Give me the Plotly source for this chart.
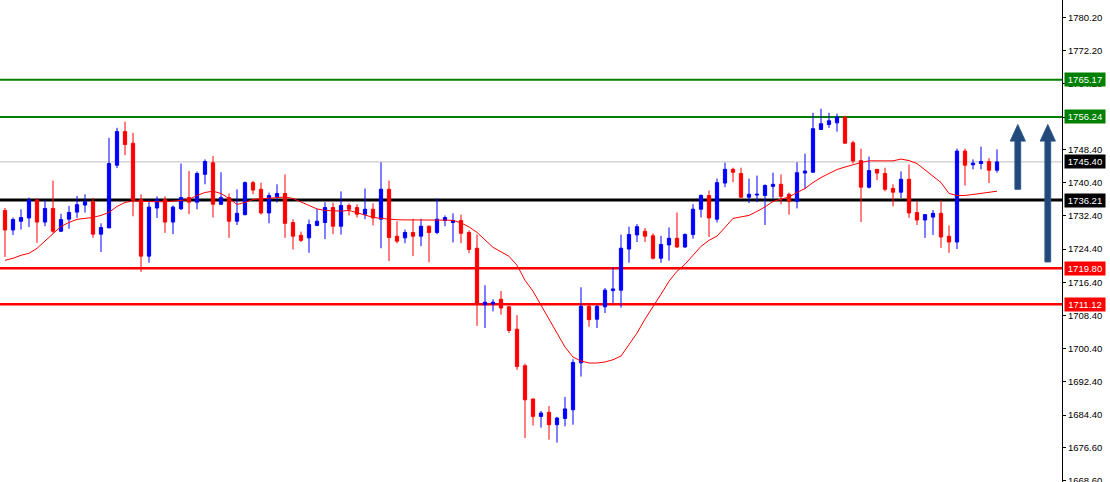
import plotly.graph_objects as go

# ---- data ----
idx = list(range(125))
opens = [1733.7, 1729.0, 1731.1, 1731.9, 1736.2, 1730.9, 1734.2, 1728.7, 1731.6, 1733.3,
         1735.0, 1735.8, 1728.0, 1729.5, 1744.6, 1752.7, 1749.9, 1736.3, 1722.7, 1734.3,
         1736.3, 1730.9, 1734.1, 1736.8, 1735.7, 1742.4, 1745.2, 1735.2, 1736.8, 1731.1,
         1732.7, 1740.4, 1738.8, 1733.1, 1737.0, 1737.8, 1730.8, 1727.7, 1727.1, 1730.1,
         1730.8, 1734.4, 1729.9, 1734.9, 1734.4, 1732.8, 1734.0, 1731.6, 1738.8, 1727.5,
         1727.1, 1728.4, 1727.5, 1729.9, 1728.4, 1731.3, 1730.8, 1731.3, 1728.4, 1724.6,
         1711.0, 1711.2, 1712.3, 1710.5, 1705.1, 1696.3, 1688.3, 1684.1, 1685.1, 1682.1,
         1683.6, 1685.7, 1697.0, 1710.6, 1707.5, 1710.5, 1714.4, 1714.5, 1724.4, 1727.8,
         1728.7, 1727.6, 1722.2, 1725.4, 1727.0, 1724.9, 1727.9, 1734.0, 1737.3, 1731.6,
         1740.3, 1743.6, 1742.6, 1736.9, 1737.4, 1737.3, 1739.5, 1740.0, 1737.6, 1735.9,
         1742.7, 1742.9, 1753.2, 1754.4, 1754.8, 1756.2, 1750.0, 1745.7, 1739.3, 1743.6,
         1742.6, 1739.0, 1738.1, 1741.2, 1733.2, 1731.4, 1732.1, 1733.0, 1727.5, 1726.1,
         1748.0, 1744.7, 1745.0, 1745.5, 1743.4]
highs = [1734.3, 1732.0, 1734.0, 1736.8, 1736.6, 1736.3, 1740.9, 1732.9, 1734.8, 1737.2,
         1737.6, 1736.7, 1730.6, 1751.2, 1753.6, 1755.1, 1752.4, 1737.6, 1736.3, 1737.1,
         1737.1, 1734.9, 1745.0, 1743.2, 1743.1, 1746.0, 1746.8, 1742.9, 1737.8, 1738.8,
         1740.7, 1740.8, 1740.4, 1738.0, 1740.0, 1742.4, 1731.6, 1728.6, 1731.5, 1734.1,
         1735.7, 1735.6, 1738.3, 1735.4, 1735.2, 1739.0, 1735.4, 1745.3, 1740.9, 1731.1,
         1729.1, 1731.7, 1731.7, 1730.1, 1736.6, 1732.5, 1733.0, 1732.7, 1728.9, 1727.9,
         1715.7, 1712.3, 1714.3, 1710.7, 1708.5, 1696.8, 1688.3, 1685.4, 1686.6, 1684.0,
         1688.8, 1697.9, 1715.2, 1710.9, 1710.9, 1715.0, 1720.0, 1727.9, 1729.8, 1730.4,
         1729.5, 1728.2, 1727.6, 1729.6, 1733.2, 1728.2, 1735.2, 1737.6, 1738.5, 1741.4,
         1745.2, 1744.0, 1744.0, 1741.4, 1742.1, 1740.0, 1742.8, 1742.4, 1738.0, 1745.3,
         1747.4, 1757.2, 1758.2, 1757.2, 1757.0, 1756.5, 1750.5, 1748.6, 1746.7, 1743.6,
         1744.0, 1740.0, 1743.1, 1744.8, 1736.0, 1732.7, 1733.8, 1736.1, 1730.1, 1748.6,
         1748.6, 1746.0, 1749.1, 1746.3, 1748.4]
lows = [1722.5, 1727.8, 1729.1, 1729.7, 1725.9, 1729.9, 1728.2, 1728.5, 1729.3, 1731.9,
        1733.2, 1727.1, 1723.7, 1729.5, 1743.9, 1747.0, 1732.3, 1718.9, 1721.1, 1731.9,
        1728.3, 1728.0, 1733.8, 1732.8, 1734.0, 1740.0, 1732.0, 1735.0, 1727.1, 1730.2,
        1732.5, 1737.6, 1732.7, 1730.6, 1735.6, 1727.1, 1724.3, 1726.1, 1723.5, 1729.9,
        1726.8, 1728.0, 1727.9, 1732.5, 1732.0, 1731.6, 1730.1, 1724.6, 1721.5, 1725.8,
        1725.8, 1722.7, 1725.1, 1721.2, 1728.0, 1729.9, 1726.0, 1725.8, 1723.4, 1705.9,
        1705.4, 1709.4, 1708.6, 1704.2, 1695.3, 1678.9, 1681.9, 1681.4, 1678.5, 1677.8,
        1681.7, 1682.1, 1693.7, 1705.7, 1705.4, 1709.0, 1711.4, 1710.3, 1721.1, 1726.1,
        1726.1, 1721.9, 1721.1, 1721.6, 1724.7, 1724.7, 1726.9, 1732.0, 1727.3, 1730.8,
        1739.3, 1740.5, 1736.7, 1735.5, 1735.7, 1730.2, 1736.6, 1735.2, 1732.7, 1734.2,
        1738.9, 1742.9, 1753.2, 1753.6, 1752.7, 1749.9, 1745.0, 1730.9, 1739.0, 1741.0,
        1738.3, 1734.7, 1736.7, 1731.9, 1730.2, 1727.1, 1727.8, 1724.7, 1723.5, 1724.4,
        1739.7, 1743.6, 1743.6, 1740.3, 1742.8]
closes = [1729.0, 1731.5, 1732.0, 1736.2, 1730.9, 1734.2, 1728.7, 1731.5, 1733.2, 1735.1,
          1735.8, 1728.0, 1729.6, 1745.0, 1752.7, 1749.6, 1736.2, 1722.7, 1734.5, 1736.3,
          1730.9, 1734.5, 1736.8, 1735.7, 1742.6, 1745.5, 1735.2, 1736.8, 1731.1, 1733.0,
          1740.4, 1738.6, 1733.1, 1737.3, 1737.8, 1730.6, 1727.5, 1726.5, 1730.3, 1731.1,
          1734.4, 1729.9, 1734.9, 1734.0, 1732.8, 1734.0, 1731.9, 1738.8, 1727.2, 1726.3,
          1728.4, 1727.5, 1729.9, 1728.4, 1731.6, 1732.0, 1731.3, 1728.2, 1724.3, 1711.2,
          1711.6, 1711.6, 1710.2, 1704.8, 1696.1, 1688.1, 1684.1, 1684.9, 1682.1, 1683.7,
          1685.9, 1697.1, 1710.6, 1707.4, 1710.6, 1714.5, 1714.8, 1724.6, 1727.9, 1729.8,
          1727.5, 1722.2, 1725.5, 1727.0, 1724.9, 1727.9, 1734.0, 1737.3, 1731.9, 1740.4,
          1743.6, 1742.9, 1736.9, 1737.6, 1737.6, 1739.7, 1740.0, 1737.1, 1735.9, 1742.8,
          1743.2, 1753.4, 1754.6, 1755.3, 1756.2, 1749.9, 1745.6, 1739.3, 1743.3, 1742.7,
          1738.8, 1738.1, 1741.2, 1733.1, 1731.4, 1732.7, 1733.0, 1727.3, 1726.1, 1748.0,
          1744.6, 1745.1, 1745.5, 1743.4, 1745.4]
ma_values = [1721.70, 1722.18, 1722.90, 1723.38, 1724.58, 1726.26, 1728.18, 1729.86, 1730.82, 1731.55,
             1731.79, 1732.03, 1732.51, 1733.23, 1734.67, 1735.63, 1735.99, 1735.87, 1735.80, 1735.80,
             1735.80, 1735.87, 1736.11, 1736.35, 1737.31, 1738.03, 1738.34, 1737.79, 1736.59, 1735.15,
             1735.63, 1736.35, 1736.52, 1736.52, 1736.83, 1736.95, 1736.59, 1735.75, 1734.91, 1734.07,
             1733.71, 1733.59, 1733.54, 1733.71, 1733.11, 1732.51, 1732.03, 1731.79, 1731.55, 1731.47,
             1731.43, 1731.38, 1731.38, 1731.38, 1731.38, 1731.38, 1731.31, 1730.71, 1729.74, 1728.42,
             1726.74, 1724.82, 1723.74, 1722.66, 1720.50, 1716.89, 1714.25, 1710.89, 1707.53, 1703.92,
             1700.80, 1698.40, 1697.44, 1696.96, 1696.96, 1697.20, 1697.75, 1698.64, 1701.28, 1704.16,
             1707.53, 1710.41, 1713.53, 1716.65, 1719.06, 1720.74, 1722.90, 1725.06, 1726.50, 1727.53,
             1729.62, 1731.79, 1732.15, 1732.51, 1733.47, 1734.55, 1735.87, 1736.35, 1736.95, 1738.03,
             1738.99, 1740.43, 1741.63, 1742.60, 1743.56, 1744.16, 1744.76, 1745.24, 1745.65, 1745.65,
             1745.65, 1745.65, 1746.08, 1745.72, 1745.00, 1743.56, 1741.95, 1740.43, 1737.79, 1737.31,
             1737.31, 1737.55, 1737.79, 1738.03, 1738.34]

level_prices = [1765.17, 1756.24, 1745.40, 1736.21, 1719.80, 1711.12]
level_colors = ["#008000", "#008000", "#C0C0C0", "#000000", "#FF0000", "#FF0000"]
level_widths = [2, 2, 1, 3, 2.5, 2.5]
label_colors = ["#008000", "#008000", "#000000", "#000000", "#FF0000", "#FF0000"]

tick_vals = [1780.20, 1772.20, 1764.20, 1756.20, 1748.40, 1740.40, 1732.40, 1724.40,
             1716.40, 1708.40, 1700.40, 1692.40, 1684.40, 1676.60, 1668.60]

# arrows (decoration): x center, tip price, head base price, tail price
arrow_x = [126.6, 130.35]
arrow_tip = [1754.4, 1754.4]
arrow_head_base = [1750.4, 1750.4]
arrow_tail = [1738.8, 1721.3]

fig = go.Figure()
fig.add_trace(go.Candlestick(
    x=idx, open=opens, high=highs, low=lows, close=closes,
    increasing=dict(line=dict(color="#0000FF", width=1), fillcolor="#0000FF"),
    decreasing=dict(line=dict(color="#FF0000", width=1), fillcolor="#FF0000"),
    whiskerwidth=0, showlegend=False, hoverinfo="skip"))
fig.add_trace(go.Scatter(x=idx, y=ma_values, mode="lines",
                         line=dict(color="#FF0000", width=1), showlegend=False,
                         hoverinfo="skip"))

shapes = []
for p, c, w in zip(level_prices, level_colors, level_widths):
    shapes.append(dict(type="line", xref="paper", x0=0, x1=1, yref="y", y0=p, y1=p,
                       line=dict(color=c, width=w), layer="below"))

sw, hw = 0.36, 0.95
for ax, tip, hb, tail in zip(arrow_x, arrow_tip, arrow_head_base, arrow_tail):
    path = (f"M {ax - sw} {tail} L {ax - sw} {hb} L {ax - hw} {hb} L {ax} {tip} "
            f"L {ax + hw} {hb} L {ax + sw} {hb} L {ax + sw} {tail} Z")
    shapes.append(dict(type="path", xref="x", yref="y", path=path,
                       fillcolor="#22497A", line=dict(color="#2F5A8C", width=1),
                       layer="above"))

annotations = []
for p, c in zip(level_prices, label_colors):
    annotations.append(dict(x=1, xref="paper", xanchor="left", xshift=2,
                            y=p, yref="y", yanchor="middle", text=f"{p:.2f}",
                            showarrow=False, bgcolor=c, borderpad=1, width=38,
                            font=dict(color="#FFFFFF", size=9.5, family="Liberation Sans")))

fig.update_layout(
    width=1110, height=482,
    margin=dict(l=0, r=48, t=0, b=0),
    paper_bgcolor="#FFFFFF", plot_bgcolor="#FFFFFF",
    boxgap=0.42,
    shapes=shapes, annotations=annotations,
    xaxis=dict(range=[-0.625, 132.125], showgrid=False, zeroline=False,
               showticklabels=False, showline=False, ticks="",
               rangeslider=dict(visible=False)),
    yaxis=dict(range=[1668.3, 1784.39], side="right", showgrid=False, zeroline=False,
               showline=True, linecolor="#000000", linewidth=1,
               ticks="outside", ticklen=3, tickcolor="#000000", automargin=False,
               ticklabeloverflow="allow",
               tickvals=tick_vals, ticktext=[f"{v:.2f}" for v in tick_vals],
               tickfont=dict(family="Liberation Sans", size=9.5, color="#000000")),
)

fig.write_html("out.html", config={"displayModeBar": False},
               post_script="document.body.style.margin='0px';document.body.style.overflow='hidden';")
